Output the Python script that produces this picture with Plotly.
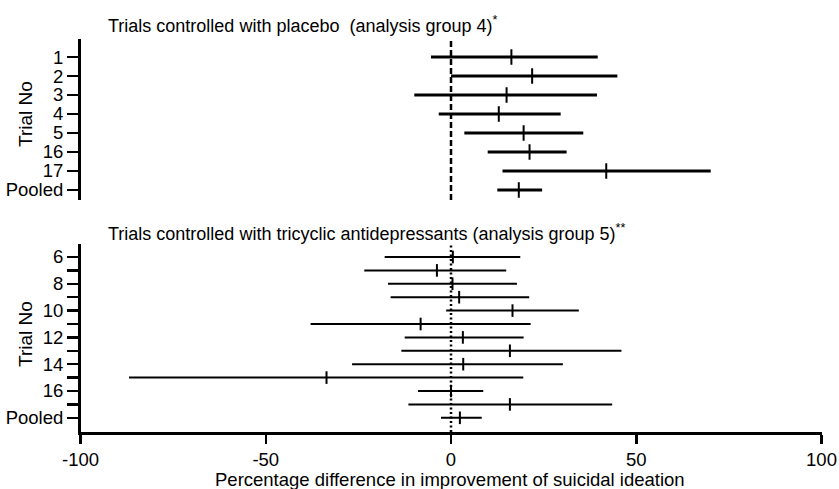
import plotly.graph_objects as go

# ---- data ----
placebo_trials = ["1", "2", "3", "4", "5", "16", "17", "Pooled"]
placebo_est = [16.3, 21.9, 15.0, 12.9, 19.6, 21.2, 41.9, 18.3]
placebo_lo = [-5.4, 0.0, -9.9, -3.3, 3.6, 9.9, 13.9, 12.5]
placebo_hi = [39.6, 44.9, 39.4, 29.6, 35.7, 31.2, 70.1, 24.6]

tca_trials = ["6", "7", "8", "9", "10", "11", "12", "13", "14", "15", "16", "17", "Pooled"]
tca_labels = ["6", " ", "8", " ", "10", " ", "12", " ", "14", " ", "16", " ", "Pooled"]
tca_est = [0.5, -3.8, 0.4, 2.2, 16.6, -8.2, 3.2, 15.9, 3.3, -33.6, 0.0, 15.9, 2.4]
tca_lo = [-17.9, -23.4, -17.0, -16.3, -1.3, -37.9, -12.5, -13.4, -26.7, -86.9, -8.9, -11.5, -2.7]
tca_hi = [18.7, 14.9, 17.8, 21.1, 34.5, 21.5, 19.6, 46.0, 30.2, 19.5, 8.7, 43.5, 8.3]

x_ticks = [-100, -50, 0, 50, 100]
x_ticktext = ["-100", "-50", "0", "50", "100"]

title_top = "Trials controlled with placebo  (analysis group 4)<sup>*</sup>"
title_bottom = "Trials controlled with tricyclic antidepressants (analysis group 5)<sup>**</sup>"
x_title = "Percentage difference in improvement of suicidal ideation"
y_title = "Trial No"

W, H = 839, 489
FONT = "Liberation Sans, Arial, sans-serif"
TICK_SIZE = 18.5

def px_x(p):
    return p / W

def px_y(p):
    return 1 - p / H

fig = go.Figure()

fig.add_trace(go.Scatter(
    x=placebo_est, y=placebo_trials, mode="markers",
    marker=dict(symbol="line-ns", size=11, line=dict(width=2, color="black"), color="black"),
    error_x=dict(type="data", symmetric=False,
                 array=[h - e for h, e in zip(placebo_hi, placebo_est)],
                 arrayminus=[e - l for e, l in zip(placebo_est, placebo_lo)],
                 width=0, thickness=3, color="black"),
    xaxis="x", yaxis="y", showlegend=False, hoverinfo="skip"))

fig.add_trace(go.Scatter(
    x=tca_est, y=tca_trials, mode="markers",
    marker=dict(symbol="line-ns", size=9, line=dict(width=2, color="black"), color="black"),
    error_x=dict(type="data", symmetric=False,
                 array=[h - e for h, e in zip(tca_hi, tca_est)],
                 arrayminus=[e - l for e, l in zip(tca_est, tca_lo)],
                 width=0, thickness=2, color="black"),
    xaxis="x2", yaxis="y2", showlegend=False, hoverinfo="skip"))

xdom = [px_x(80.5), px_x(821.5)]

# reference lines at zero
fig.add_shape(type="line", xref="x", yref="y domain", x0=0, x1=0, y0=0, y1=1,
              line=dict(color="black", width=2.5, dash="6px,3px"), layer="below")
fig.add_shape(type="line", xref="x2", yref="y2 domain", x0=0, x1=0, y0=0, y1=1,
              line=dict(color="black", width=2.5, dash="2px,2.5px"), layer="below")

n_top = len(placebo_trials)
n_bot = len(tca_trials)

fig.update_layout(
    template="none",
    width=W, height=H,
    margin=dict(l=0, r=0, t=0, b=0, autoexpand=False),
    paper_bgcolor="white", plot_bgcolor="white",
    font=dict(family=FONT, size=17, color="black"),
    xaxis=dict(domain=xdom, range=[-100, 100], anchor="y", visible=False,
               showgrid=False, zeroline=False, automargin=False),
    yaxis=dict(domain=[px_y(200), px_y(39)], type="category",
               categoryorder="array", categoryarray=placebo_trials,
               tickvals=placebo_trials, ticktext=placebo_trials,
               range=[n_top - 1 + 0.53, -0.95], anchor="x",
               showline=True, linewidth=2.5, linecolor="black",
               ticks="outside", ticklen=11, tickwidth=2.5, tickcolor="black",
               showgrid=False, zeroline=False, automargin=False,
               tickfont=dict(size=TICK_SIZE, family=FONT)),
    xaxis2=dict(domain=xdom, range=[-100, 100], anchor="y2",
                showline=True, linewidth=2.5, linecolor="black",
                ticks="outside", ticklen=9, tickwidth=2.5, tickcolor="black",
                tickvals=x_ticks, ticktext=x_ticktext,
                showgrid=False, zeroline=False, automargin=False,
                tickfont=dict(size=TICK_SIZE, family=FONT)),
    yaxis2=dict(domain=[px_y(432), px_y(244)], type="category",
                categoryorder="array", categoryarray=tca_trials,
                tickvals=tca_trials, ticktext=tca_labels,
                range=[n_bot - 1 + 1.06, -0.97], anchor="x2",
                showline=True, linewidth=2.5, linecolor="black",
                ticks="outside", ticklen=11, tickwidth=2.5, tickcolor="black",
                showgrid=False, zeroline=False, automargin=False,
                tickfont=dict(size=TICK_SIZE, family=FONT)),
)

ann = [
    dict(text=title_top, x=px_x(106), y=px_y(24), xanchor="left", yanchor="middle", size=18),
    dict(text=title_bottom, x=px_x(106), y=px_y(232), xanchor="left", yanchor="middle", size=18),
    dict(text=x_title, x=px_x(450), y=px_y(479), xanchor="center", yanchor="middle", size=18.5),
    dict(text=y_title, x=px_x(25), y=px_y(114), xanchor="center", yanchor="middle", textangle=-90, size=19),
    dict(text=y_title, x=px_x(25), y=px_y(334), xanchor="center", yanchor="middle", textangle=-90, size=19),
]
for a in ann:
    size = a.pop("size")
    fig.add_annotation(xref="paper", yref="paper", showarrow=False,
                       font=dict(family=FONT, size=size, color="black"), **a)

fig.write_html("out.html",
               config={"displayModeBar": False, "staticPlot": True},
               post_script="document.body.style.margin='0';document.body.style.overflow='hidden';")
